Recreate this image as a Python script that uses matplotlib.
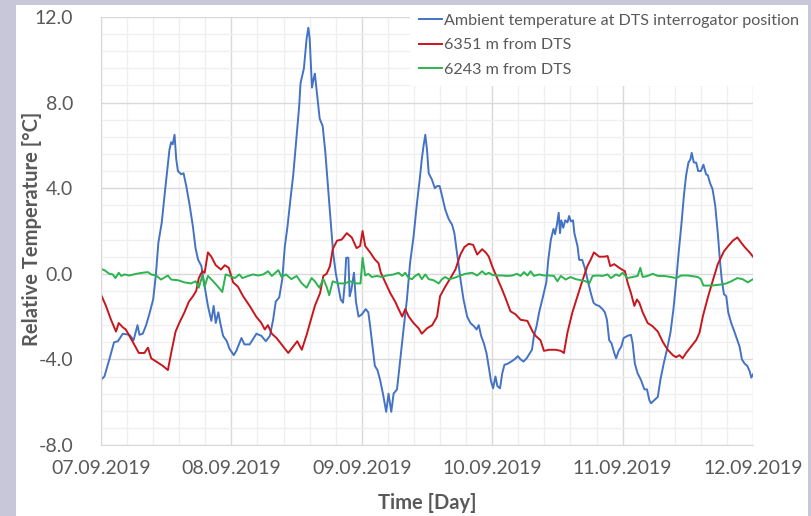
import matplotlib
matplotlib.use("Agg")
import matplotlib.pyplot as plt
import matplotlib.dates as mdates
from matplotlib.patches import Rectangle
from matplotlib.ticker import MultipleLocator
import pandas as pd

START = pd.Timestamp("2019-09-07")

# days after 07.09.2019 00:00 and relative temperature [°C]
ambient_day = [
    0.0, 0.026, 0.064, 0.10, 0.13, 0.167, 0.218, 0.25, 0.28, 0.295, 0.32, 0.346, 0.37, 0.40,
    0.42, 0.44, 0.466, 0.487, 0.505, 0.525, 0.538, 0.55, 0.564, 0.577, 0.59, 0.615, 0.633,
    0.654, 0.68, 0.705, 0.725, 0.744, 0.77, 0.795, 0.82, 0.846, 0.864, 0.88, 0.90, 0.915,
    0.936, 0.965, 0.985, 1.018, 1.038, 1.077, 1.10, 1.14, 1.192, 1.23, 1.264, 1.295, 1.32,
    1.34, 1.367, 1.39, 1.41, 1.43, 1.453, 1.474, 1.50, 1.52, 1.53, 1.556, 1.577, 1.59, 1.60,
    1.618, 1.63, 1.64, 1.66, 1.677, 1.70, 1.72, 1.74, 1.76, 1.78, 1.80, 1.82, 1.838, 1.856,
    1.87, 1.88, 1.897, 1.907, 1.92, 1.94, 1.955, 1.975, 2.0, 2.03, 2.05, 2.064, 2.085, 2.10,
    2.12, 2.14, 2.162, 2.187, 2.205, 2.226, 2.244, 2.27, 2.295, 2.32, 2.346, 2.37, 2.397,
    2.423, 2.444, 2.46, 2.474, 2.487, 2.50, 2.513, 2.538, 2.56, 2.577, 2.597, 2.615, 2.64,
    2.667, 2.692, 2.71, 2.726, 2.744, 2.76, 2.78, 2.808, 2.833, 2.86, 2.88, 2.897, 2.915,
    2.936, 2.956, 2.975, 2.99, 3.007, 3.025, 3.04, 3.06, 3.077, 3.094, 3.12, 3.146, 3.17,
    3.197, 3.218, 3.24, 3.264, 3.29, 3.305, 3.32, 3.34, 3.36, 3.39, 3.415, 3.43, 3.45, 3.47,
    3.482, 3.495, 3.51, 3.52, 3.53, 3.545, 3.56, 3.577, 3.59, 3.603, 3.62, 3.63, 3.654,
    3.667, 3.69, 3.71, 3.73, 3.756, 3.777, 3.795, 3.82, 3.846, 3.864, 3.88, 3.897, 3.915,
    3.936, 3.95, 3.97, 3.99, 4.008, 4.038, 4.064, 4.077, 4.094, 4.115, 4.14, 4.167, 4.187,
    4.205, 4.218, 4.244, 4.27, 4.29, 4.315, 4.34, 4.367, 4.39, 4.41, 4.43, 4.45, 4.47,
    4.487, 4.505, 4.52, 4.53, 4.546, 4.564, 4.58, 4.6, 4.62, 4.64, 4.654, 4.67, 4.69, 4.71,
    4.73, 4.746, 4.76, 4.777, 4.795, 4.81, 4.833, 4.86, 4.88, 4.897, 4.915, 4.936, 4.956,
    4.974, 4.987, 5.0,
]
ambient_temp = [
    -4.95, -4.8, -4.0, -3.2, -3.15, -2.8, -2.85, -3.1, -2.4, -2.85, -2.8, -2.4, -1.9, -1.2,
    -0.1, 1.45, 2.4, 3.65, 4.65, 5.8, 6.15, 6.05, 6.5, 5.35, 4.8, 4.65, 4.7,
    4.1, 3.2, 2.2, 1.2, 0.67, 0.36, -0.6, -1.5, -2.2, -1.5, -2.3, -1.8, -2.3,
    -2.9, -3.15, -3.5, -3.8, -3.6, -3.0, -3.3, -3.3, -2.8, -2.9, -3.15, -2.9, -2.15,
    -1.3, -1.1, -0.25, 1.3, 2.2, 3.5, 4.6, 6.45, 7.85, 8.9, 9.6, 11.0, 11.5, 11.0,
    8.7, 9.1, 9.35, 8.2, 7.25, 6.9, 5.7, 4.1, 2.55, 1.0, 0.05, -0.6, -1.2, -1.35,
    -0.4, 0.75, 0.75, -1.05, -0.75, 0.05, -1.3, -2.0, -1.9, -1.65, -1.8, -2.45, -3.55, -4.3,
    -4.5, -4.95, -5.6, -6.45, -5.6, -6.45, -5.6, -5.4, -4.0, -2.6, -1.2, 0.5, 1.75,
    3.3, 4.4, 5.35, 6.0, 6.5, 5.8, 4.7, 4.4, 4.0, 4.1, 4.1, 3.65, 3.0,
    2.55, 2.3, 1.9, 1.15, 0.36, -0.4, -1.2, -2.0, -2.3, -2.45, -2.6, -2.4, -2.9,
    -3.25, -3.7, -4.4, -5.0, -5.35, -4.8, -5.25, -5.35, -4.65, -4.25, -4.2, -4.1, -4.0,
    -3.85, -4.0, -4.1, -3.95, -3.7, -3.55, -2.9, -2.45, -1.8, -1.05, -0.4, 0.65, 1.6, 2.1,
    1.85, 2.25, 2.85, 1.9, 2.5, 2.15, 2.5, 2.4, 2.7, 2.45, 2.5, 1.9, 1.3,
    0.65, 0.65, 0.28, -0.25, -0.9, -1.35, -1.45, -1.5, -1.65, -1.8, -2.15, -3.1, -3.25,
    -3.7, -3.95, -3.6, -3.4, -3.0, -2.9, -2.85, -3.25, -4.2, -4.65, -4.95, -5.4, -5.4,
    -5.9, -6.05, -5.9, -5.75, -4.95, -4.2, -3.55, -2.75, -1.65, -0.4, 1.0, 2.25, 3.65,
    4.6, 5.2, 5.35, 5.65, 5.2, 5.2, 4.8, 4.8, 5.1, 4.65, 4.6, 4.25, 3.95, 3.2,
    1.9, 0.65, -0.25, -0.95, -1.05, -1.8, -2.3, -2.75, -3.1, -3.4, -4.0, -4.2, -4.3,
    -4.55, -4.85, -4.7,
]

far_day = [
    0.0, 0.038, 0.077, 0.115, 0.136, 0.167, 0.19, 0.218, 0.25, 0.29, 0.333, 0.36, 0.385,
    0.423, 0.474, 0.513, 0.538, 0.572, 0.60, 0.64, 0.674, 0.705, 0.73, 0.75, 0.777, 0.795,
    0.82, 0.846, 0.88, 0.92, 0.95, 0.98, 1.013, 1.05, 1.09, 1.14, 1.19, 1.23, 1.256, 1.28,
    1.31, 1.346, 1.385, 1.436, 1.474, 1.505, 1.54, 1.577, 1.61, 1.64, 1.68, 1.705, 1.73,
    1.756, 1.777, 1.81, 1.846, 1.885, 1.923, 1.96, 1.987, 2.006, 2.026, 2.064, 2.10, 2.128,
    2.146, 2.18, 2.218, 2.256, 2.282, 2.31, 2.333, 2.36, 2.397, 2.436, 2.46, 2.50, 2.54,
    2.577, 2.60, 2.64, 2.68, 2.718, 2.756, 2.787, 2.82, 2.854, 2.885, 2.923, 2.95, 2.974,
    3.0, 3.038, 3.077, 3.10, 3.14, 3.18, 3.218, 3.27, 3.31, 3.333, 3.37, 3.397, 3.436,
    3.487, 3.526, 3.55, 3.577, 3.615, 3.654, 3.69, 3.73, 3.756, 3.78, 3.82, 3.86, 3.885,
    3.905, 3.936, 3.974, 4.0, 4.018, 4.038, 4.064, 4.09, 4.11, 4.128, 4.154, 4.192, 4.23,
    4.27, 4.31, 4.346, 4.385, 4.41, 4.436, 4.46, 4.487, 4.526, 4.564, 4.59, 4.615, 4.654,
    4.69, 4.73, 4.777, 4.81, 4.846, 4.88, 4.91, 4.936, 4.974, 5.0,
]
far_temp = [
    -0.97, -1.5, -2.15, -2.7, -2.3, -2.5, -2.6, -2.9, -3.25, -3.7, -3.7, -3.45, -3.95,
    -4.1, -4.3, -4.5, -3.7, -2.7, -2.3, -1.8, -1.3, -1.05, -0.8, -0.2, 0.12, 0.05,
    1.0, 0.8, 0.4, 0.2, 0.4, 0.28, -0.4, -0.6, -1.05, -1.5, -2.0, -2.3, -2.6, -2.4,
    -2.8, -3.0, -3.3, -3.7, -3.4, -3.15, -3.55, -2.85, -2.15, -1.5, -0.9, -0.1, 0.0,
    0.36, 1.15, 1.55, 1.6, 1.9, 1.7, 1.2, 1.3, 2.0, 1.3, 1.0, 0.67, 0.5,
    0.05, -0.4, -0.9, -1.3, -1.65, -2.0, -1.65, -2.0, -2.3, -2.55, -2.8, -2.55, -2.4,
    -2.0, -1.05, -0.6, -0.2, 0.2, 0.9, 1.25, 1.4, 1.35, 0.9, 1.15, 1.0, 0.8,
    0.35, -0.2, -0.75, -1.1, -1.75, -1.9, -2.15, -2.2, -2.7, -2.9, -3.1, -3.6, -3.55,
    -3.55, -3.6, -3.7, -2.75, -1.8, -1.05, -0.35, 0.36, 0.67, 1.0, 0.8, 0.8, 0.83,
    0.36, 0.45, 0.28, 0.18, 0.12, -0.4, -0.9, -1.5, -1.2, -1.35, -1.8, -2.3, -2.45,
    -2.7, -3.2, -3.55, -3.8, -3.9, -3.8, -3.95, -3.7, -3.4, -3.1, -2.75, -2.0, -1.1,
    -0.35, 0.45, 1.05, 1.3, 1.55, 1.7, 1.45, 1.25, 1.0, 0.8,
]

near_day = [
    0.0, 0.026, 0.064, 0.09, 0.11, 0.136, 0.155, 0.18, 0.218, 0.27, 0.32, 0.36, 0.385,
    0.423, 0.46, 0.513, 0.538, 0.59, 0.64, 0.69, 0.726, 0.75, 0.777, 0.795, 0.82, 0.86,
    0.897, 0.93, 0.956, 0.987, 1.026, 1.06, 1.085, 1.128, 1.167, 1.205, 1.244, 1.282, 1.31,
    1.36, 1.385, 1.418, 1.46, 1.50, 1.54, 1.577, 1.615, 1.64, 1.674, 1.705, 1.73, 1.75,
    1.777, 1.82, 1.87, 1.91, 1.96, 1.99, 2.006, 2.026, 2.05, 2.077, 2.115, 2.154, 2.19,
    2.244, 2.282, 2.31, 2.333, 2.36, 2.385, 2.41, 2.436, 2.46, 2.487, 2.513, 2.55, 2.59,
    2.615, 2.64, 2.667, 2.705, 2.756, 2.795, 2.846, 2.885, 2.923, 2.95, 2.974, 3.0, 3.038,
    3.077, 3.115, 3.154, 3.19, 3.218, 3.244, 3.27, 3.295, 3.32, 3.36, 3.397, 3.436, 3.474,
    3.50, 3.526, 3.564, 3.60, 3.64, 3.68, 3.718, 3.744, 3.77, 3.81, 3.846, 3.885, 3.91,
    3.95, 3.974, 4.0, 4.038, 4.077, 4.115, 4.136, 4.154, 4.192, 4.23, 4.27, 4.32, 4.37,
    4.41, 4.45, 4.5, 4.577, 4.60, 4.62, 4.68, 4.756, 4.795, 4.833, 4.88, 4.92, 4.96, 5.0,
]
near_temp = [
    0.23, 0.17, 0.0, -0.03, -0.2, 0.05, -0.1, -0.03, -0.08, 0.0, 0.05, 0.08, -0.03,
    -0.08, -0.27, -0.08, -0.27, -0.3, -0.4, -0.45, -0.35, -0.65, -0.08, -0.6, -0.1, -0.35,
    -0.6, -0.85, -0.03, -0.1, -0.2, -0.03, -0.2, -0.1, -0.03, -0.08, -0.03, 0.12, -0.1,
    0.17, -0.15, -0.03, -0.25, -0.1, -0.45, -0.65, -0.2, -0.35, -0.65, -0.25, -0.6, -1.0,
    -0.35, -0.45, -0.45, -0.35, -0.45, -0.45, 0.75, -0.08, 0.0, -0.15, -0.1, -0.15, -0.08,
    -0.03, 0.05, -0.1, 0.05, -0.2, -0.25, -0.1, 0.0, -0.25, -0.03, -0.25, -0.3, -0.45,
    -0.25, -0.15, -0.25, -0.2, -0.08, 0.0, 0.05, -0.08, 0.12, -0.03, 0.05, -0.05, -0.08,
    -0.08, -0.1, -0.08, 0.0, -0.1, 0.08, -0.08, 0.12, -0.1, -0.03, -0.08, -0.08, -0.1,
    -0.35, -0.1, -0.27, -0.15, -0.25, -0.3, -0.35, -0.45, -0.1, -0.08, -0.1, -0.03, -0.2,
    -0.03, -0.1, 0.05, -0.2, -0.15, -0.1, 0.28, -0.15, -0.1, 0.0, -0.1, -0.1, -0.15,
    -0.2, -0.08, -0.08, -0.15, -0.25, -0.55, -0.55, -0.5, -0.45, -0.35, -0.2, -0.25, -0.4, -0.25,
]

labels = ["Ambient temperature at DTS interrogator position", "6351 m from DTS", "6243 m from DTS"]
colors = ["#4472C4", "#C8161D", "#2DB34F"]
y_ticks = [-8.0, -4.0, 0.0, 4.0, 8.0, 12.0]

GREY = "#595959"
plt.rcParams["font.family"] = ["Lato", "DejaVu Sans"]


def to_dates(days):
    return START + pd.to_timedelta(days, unit="D")


fig = plt.figure(figsize=(8.12, 5.16), dpi=100, facecolor="#C7C7D9")
fig.patches.append(Rectangle((16 / 812, 0), 792 / 812, 511 / 516, transform=fig.transFigure,
                             facecolor="white", edgecolor="none", zorder=-1))
ax = fig.add_axes([101 / 812, 1 - 445 / 516, 652 / 812, 428 / 516])
ax.set_facecolor("none")

for d, t, lab, c in zip([ambient_day, far_day, near_day],
                        [ambient_temp, far_temp, near_temp], labels, colors):
    ax.plot(to_dates(d), t, color=c, lw=1.4, label=lab)

ax.set_xlim(START, START + pd.Timedelta(days=5))
ax.set_ylim(-8, 12)
ax.set_yticks(y_ticks)
ax.set_yticklabels([f"{v:.1f}" for v in y_ticks])
ax.yaxis.set_minor_locator(MultipleLocator(0.8))
ax.xaxis.set_major_locator(mdates.DayLocator())
ax.xaxis.set_major_formatter(mdates.DateFormatter("%d.%m.%Y"))
ax.xaxis.set_minor_locator(MultipleLocator(0.2))

ax.grid(which="major", color="#D9D9D9", lw=1.0)
ax.grid(which="minor", color="#EFEFEF", lw=0.9)
ax.set_axisbelow(True)
for s in ["top", "right"]:
    ax.spines[s].set_visible(False)
for s in ["left", "bottom"]:
    ax.spines[s].set_color("#D9D9D9")
ax.tick_params(which="both", length=0, labelsize=14, colors=GREY)
ax.tick_params(axis="x", pad=11)
ax.tick_params(axis="y", pad=20)

ax.set_xlabel("Time [Day]", fontsize=14.5, fontweight="bold", color=GREY)
ax.set_ylabel("Relative Temperature [°C]", fontsize=14.5, fontweight="bold", color=GREY)
ax.xaxis.label.set_va("center")
ax.yaxis.label.set_va("center")
ax.xaxis.set_label_coords(0.5, -0.136)
ax.yaxis.set_label_coords(-0.106, 0.505)

leg = fig.legend(loc="upper left", bbox_to_anchor=(410 / 812, 1 - 5 / 516), fontsize=11.6,
                 frameon=True, facecolor="white", edgecolor="none", framealpha=1,
                 fancybox=False, borderaxespad=0, borderpad=0.55, handlelength=1.45,
                 handletextpad=0.1, labelspacing=0.62)
for txt in leg.get_texts():
    txt.set_color(GREY)

fig.savefig("out.png", dpi=100, facecolor=fig.get_facecolor())
